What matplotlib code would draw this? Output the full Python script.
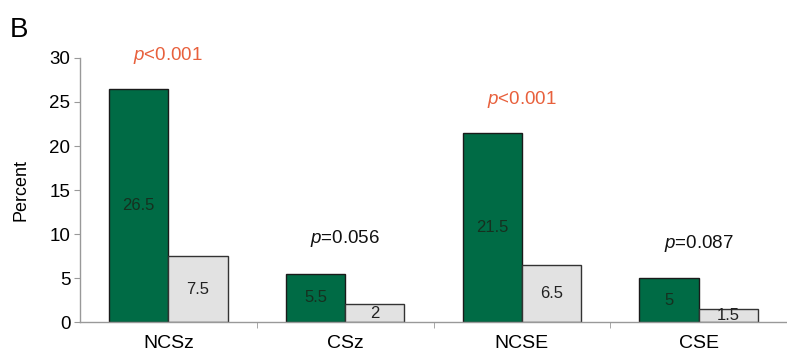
import matplotlib
matplotlib.use("Agg")
import matplotlib.pyplot as plt
import numpy as np

categories = ["NCSz", "CSz", "NCSE", "CSE"]
group1 = [26.5, 5.5, 21.5, 5]
group2 = [7.5, 2, 6.5, 1.5]
p_texts = ["$p$<0.001", "$p$=0.056", "$p$<0.001", "$p$=0.087"]
p_colors = ["#E8603C", "#111111", "#E8603C", "#111111"]
p_y = [30.3, 9.5, 25.3, 8.9]
yticks = [0, 5, 10, 15, 20, 25, 30]

plt.rcParams['font.family'] = ['Liberation Sans', 'DejaVu Sans']
plt.rcParams['mathtext.fontset'] = 'custom'
plt.rcParams['mathtext.it'] = 'Liberation Sans:italic'
plt.rcParams['mathtext.rm'] = 'Liberation Sans'

fig = plt.figure(figsize=(7.87, 3.53), dpi=100)
ax = fig.add_axes([0.1017, 0.0878, 0.8983, 0.7479])

x = np.arange(len(categories))
w = 0.335
green = "#006B45"
gray = "#E2E2E2"
ax.bar(x - w/2, group1, w, color=green, edgecolor="#1a1a1a", linewidth=1.0)
ax.bar(x + w/2, group2, w, color=gray, edgecolor="#333333", linewidth=1.0)

for xi, v in zip(x, group1):
    ax.text(xi - w/2, v/2, f"{v:g}", ha="center", va="center", fontsize=12, color="#16301f")
for xi, v in zip(x, group2):
    ax.text(xi + w/2, v/2, f"{v:g}", ha="center", va="center", fontsize=12, color="#222222")

for xi, t, c, yy in zip(x, p_texts, p_colors, p_y):
    ax.text(xi, yy, t, ha="center", va="center", fontsize=13.5, color=c)

ax.set_xlim(-0.5, 3.5)
ax.set_ylim(0, 30)
ax.set_yticks(yticks)
ax.set_xticks(x)
ax.set_xticklabels(categories, fontsize=14)
ax.set_xticks(np.arange(0.5, 4, 1), minor=True)
ax.tick_params(axis='x', which='major', length=0, pad=9)
ax.tick_params(axis='x', which='minor', length=4, color="#999999", direction='out')
ax.tick_params(axis='y', length=4, color="#999999", labelsize=13.5, pad=3)
ax.set_ylabel("Percent", fontsize=13, labelpad=14)

for s in ["top", "right"]:
    ax.spines[s].set_visible(False)
for s in ["left", "bottom"]:
    ax.spines[s].set_color("#999999")
    ax.spines[s].set_linewidth(1.0)

fig.text(0.013, 0.915, "B", fontsize=20, ha="left", va="center")

fig.savefig("out.png", dpi=100)
